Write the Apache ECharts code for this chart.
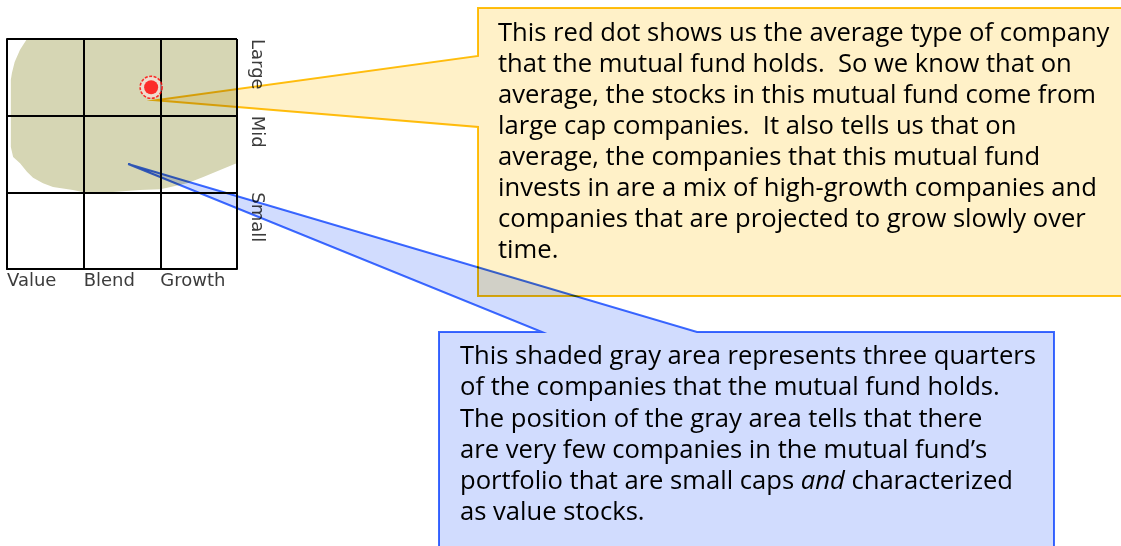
<!DOCTYPE html>
<html><head><meta charset="utf-8">
<script src="https://cdn.jsdelivr.net/npm/echarts@6/dist/echarts.min.js"></script>
<style>html,body{margin:0;padding:0;background:#fff}#c{width:1121px;height:546px}</style>
</head><body><div id="c"></div>
<script>
// Style box axes: 0..3 columns (value→growth), 0..3 rows (small→large)
const styleColumns = ['Value', 'Blend', 'Growth'];
const sizeRows = ['Small', 'Mid', 'Large'];

// Outline of the shaded ownership zone (style-box units)
const blobOutline = [
  [0.26, 3.00], [0.17, 2.86], [0.10, 2.70], [0.065, 2.56], [0.05, 2.47],
  [0.05, 1.59], [0.08, 1.46], [0.17, 1.38], [0.26, 1.27], [0.34, 1.19],
  [0.47, 1.12], [0.60, 1.07], [0.86, 1.03], [1.00, 1.00], [1.34, 1.00],
  [1.73, 1.03], [2.00, 1.04], [2.09, 1.06], [2.35, 1.12], [2.56, 1.20],
  [2.78, 1.29], [2.97, 1.37], [3.00, 1.38], [3.00, 3.00]
];

// Average holding (the red dot)
const averageDot = [[1.88, 2.37]];

// Points the two callouts point at
const dotCalloutAnchor = [1.94, 2.20];
const blobCalloutAnchor = [1.58, 1.37];

const dotNoteLines = [
  'This red dot shows us the average type of company',
  'that the mutual fund holds.  So we know that on',
  'average, the stocks in this mutual fund come from',
  'large cap companies.  It also tells us that on',
  'average, the companies that this mutual fund',
  'invests in are a mix of high-growth companies and',
  'companies that are projected to grow slowly over',
  'time.'
];
const blobNoteLines = [
  'This shaded gray area represents three quarters',
  'of the companies that the mutual fund holds.',
  'The position of the gray area tells that there',
  'are very few companies in the mutual fund\u2019s',
  'portfolio that are small caps {i|and} characterized',
  'as value stocks.'
];

const FONT = '"Open Sans", "Noto Sans", sans-serif';
function fitSize(line, width) {
  const ctx = document.createElement('canvas').getContext('2d');
  ctx.font = '100px ' + FONT;
  return Math.round(100 * width / ctx.measureText(line).width * 10) / 10;
}
const noteSize = fitSize(dotNoteLines[0], 612);

const chart = echarts.init(document.getElementById('c'), null, {renderer: 'canvas'});
const labelFont = {fontFamily: '"DejaVu Sans", sans-serif', fontSize: 18, color: '#3c3c3c'};

chart.setOption({
  animation: false,
  grid: {left: 7, top: 39, width: 230, height: 230, show: false},
  xAxis: {
    type: 'value', min: 0, max: 3, interval: 1, z: 3,
    axisLine: {show: true, lineStyle: {color: '#000', width: 2}},
    axisTick: {show: false},
    splitLine: {show: true, showMinLine: true, showMaxLine: true, lineStyle: {color: '#000', width: 2}},
    axisLabel: Object.assign({
      margin: 3, align: 'left', verticalAlign: 'top',
      formatter: v => styleColumns[v] || ''
    }, labelFont)
  },
  yAxis: {
    type: 'value', min: 0, max: 3, interval: 1, position: 'right', z: 3,
    axisLine: {show: true, lineStyle: {color: '#000', width: 2}},
    axisTick: {show: false},
    splitLine: {show: true, showMinLine: true, showMaxLine: true, lineStyle: {color: '#000', width: 2}},
    axisLabel: Object.assign({
      margin: 20, rotate: -90, align: 'left', verticalAlign: 'middle',
      formatter: v => (v >= 1 ? sizeRows[v - 1] : '')
    }, labelFont)
  },
  series: [
    {
      type: 'custom', coordinateSystem: 'cartesian2d', z: 1, silent: true,
      data: [0],
      renderItem: (params, api) => ({
        type: 'polygon',
        shape: {points: blobOutline.map(p => api.coord(p))},
        style: {fill: '#d6d6b4'}
      })
    },
    {
      type: 'scatter', z: 10, data: averageDot, symbolSize: 22, silent: true,
      itemStyle: {color: 'rgba(255,225,225,0.75)', borderColor: '#ff0000', borderWidth: 1.6, borderType: [3, 1.5]}
    },
    {
      type: 'scatter', z: 11, data: averageDot, symbolSize: 14, silent: true,
      itemStyle: {color: '#ff0000'}
    }
  ]
});

const tipY = chart.convertToPixel({gridIndex: 0}, dotCalloutAnchor);
const tipB = chart.convertToPixel({gridIndex: 0}, blobCalloutAnchor);

chart.setOption({
  graphic: [
    {
      type: 'polygon', z: 100, silent: true,
      shape: {points: [[478, 8], [1140, 8], [1140, 296], [478, 296], [478, 127], tipY, [478, 56]]},
      style: {fill: '#fff1c8', stroke: '#ffc20e', lineWidth: 2, blend: 'multiply'}
    },
    {
      type: 'text', z: 101, silent: true, left: 498, top: 18,
      style: {
        text: dotNoteLines.join('\n'), fontFamily: FONT, fontSize: noteSize,
        lineHeight: 31, fill: '#000'
      }
    },
    {
      type: 'polygon', z: 102, silent: true,
      shape: {points: [[439, 332], [542, 332], tipB, [697, 332], [1054, 332], [1054, 570], [439, 570]]},
      style: {fill: '#d1dcfe', stroke: '#3d6cff', lineWidth: 2, blend: 'multiply'}
    },
    {
      type: 'text', z: 103, silent: true, left: 460, top: 341,
      style: {
        text: blobNoteLines.join('\n'), fontFamily: FONT, fontSize: noteSize,
        lineHeight: 31.3, fill: '#000',
        rich: {i: {fontStyle: 'italic', fontFamily: FONT, fontSize: noteSize, lineHeight: 31.3, fill: '#000'}}
      }
    }
  ]
});
</script>
</body></html>
